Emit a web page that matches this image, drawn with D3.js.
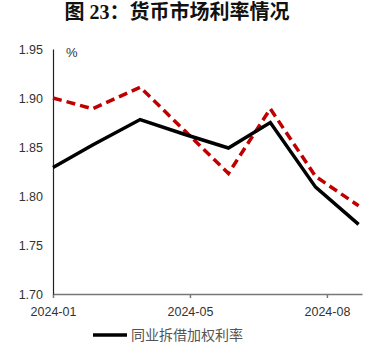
<!DOCTYPE html>
<meta charset="utf-8">
<style>
body { margin: 0; background: #fff; }
.axis text { font: 12.5px "Liberation Sans", sans-serif; fill: #333; }
.legend text { font: 14px "Noto Sans CJK SC", sans-serif; fill: #555; }
</style>
<svg width="380" height="352"></svg>
<script src="https://cdn.jsdelivr.net/npm/d3@7"></script>
<script>

// data
var dates = ["2024-01-01", "2024-02-05", "2024-03-18", "2024-04-26",
             "2024-06-04", "2024-07-11", "2024-08-20", "2024-09-27"];
var ibor = [1.829, 1.852, 1.878, 1.863, 1.849, 1.875, 1.809, 1.771];
var repo = [1.900, 1.889, 1.911, 1.867, 1.823, 1.889, 1.820, 1.790];
var xTicks = ["2024-01-01", "2024-05-01", "2024-08-30"];
var yTicks = [1.70, 1.75, 1.80, 1.85, 1.90, 1.95];
var seriesNames = ["同业拆借加权利率", "质押式回购加权平均利率"];

var parse = d3.timeParse("%Y-%m-%d");

var svg = d3.select("svg"),
    margin = {top: 49, right: 18, bottom: 58, left: 53},
    width = +svg.attr("width") - margin.left - margin.right,
    height = +svg.attr("height") - margin.top - margin.bottom;

svg.append("text")
    .attr("x", 177)
    .attr("y", 19)
    .attr("text-anchor", "middle")
    .style("font", "bold 20px 'Liberation Serif', 'Noto Sans CJK SC', serif")
    .style("fill", "#111")
    .text("图 23：货币市场利率情况");

var x = d3.scaleTime()
    .domain([parse("2024-01-01"), parse("2024-09-30")])
    .range([0, width]);
var y = d3.scaleLinear().domain([1.70, 1.95]).range([height, 0]);

var g = svg.append("g")
    .attr("transform", "translate(" + margin.left + "," + margin.top + ")");

// x axis
var xa = g.append("g")
    .attr("class", "axis")
    .attr("transform", "translate(0," + height + ")")
    .call(d3.axisBottom(x)
      .tickValues(xTicks.map(parse))
      .tickFormat(d3.timeFormat("%Y-%m"))
      .tickSize(4)
      .tickSizeOuter(0));
xa.select(".domain").attr("stroke", "#777").attr("stroke-width", 1.5);
xa.selectAll(".tick line").attr("stroke", "#777").attr("stroke-width", 1.5);
xa.selectAll(".tick text").attr("dy", "1.2em");

// y axis
var ya = g.append("g")
    .attr("class", "axis")
    .call(d3.axisLeft(y)
      .tickValues(yTicks)
      .tickFormat(d3.format(".2f"))
      .tickSize(0)
      .tickPadding(10));
ya.select(".domain").attr("stroke", "#222").attr("stroke-width", 1.2);

g.append("text")
    .attr("x", 13)
    .attr("y", 8)
    .style("font", "13px 'Liberation Sans', sans-serif")
    .style("fill", "#333")
    .text("%");

var line = d3.line()
    .x(function(d) { return x(d[0]); })
    .y(function(d) { return y(d[1]); });

var dd = dates.map(parse);

g.append("path")
    .datum(dd.map(function(d, i) { return [d, repo[i]]; }))
    .attr("fill", "none")
    .attr("stroke", "#C00000")
    .attr("stroke-width", 3.5)
    .attr("stroke-dasharray", "9,5")
    .attr("d", line);

g.append("path")
    .datum(dd.map(function(d, i) { return [d, ibor[i]]; }))
    .attr("fill", "none")
    .attr("stroke", "#000")
    .attr("stroke-width", 3.5)
    .attr("stroke-linejoin", "miter")
    .attr("d", line);

// legend (second row runs off the bottom edge, as in the source)
var lg = svg.append("g").attr("class", "legend");
var styles = [{c: "#000", dash: null}, {c: "#C00000", dash: "9,5"}];
seriesNames.forEach(function(name, i) {
  var yy = 335 + i * 24;
  lg.append("line")
      .attr("x1", 93).attr("x2", 127)
      .attr("y1", yy).attr("y2", yy)
      .attr("stroke", styles[i].c)
      .attr("stroke-width", 3.5)
      .attr("stroke-dasharray", styles[i].dash);
  lg.append("text")
      .attr("x", 131)
      .attr("y", yy)
      .attr("dy", "0.36em")
      .text(name);
});

</script>
